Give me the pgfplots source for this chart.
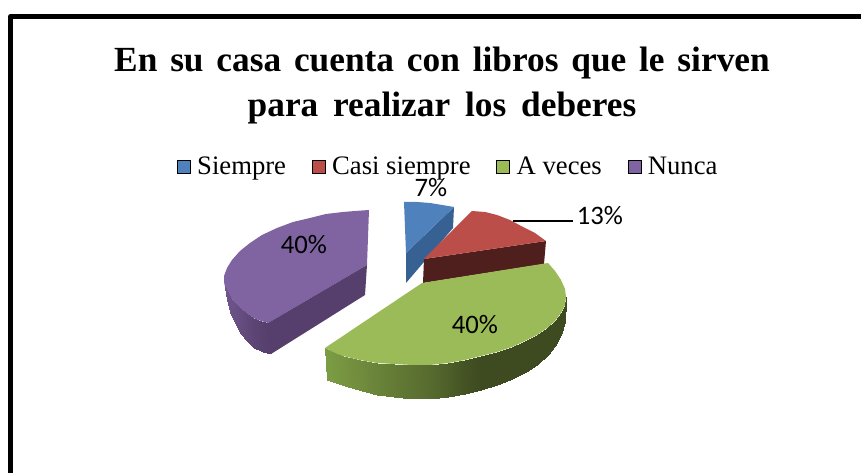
\documentclass[border=0pt]{standalone}
\usepackage{pgfplots}
\pgfplotsset{compat=1.18}
\usepackage{fontspec}
\setmainfont{Liberation Serif}
\newfontfamily\labelfont{Carlito}
\newcommand\titleface[1]{\bfseries\fontsize{26.5}{33.5}\selectfont\setlength\spaceskip{#1}}
\definecolor{cblue}{HTML}{4F81BD}
\definecolor{cbluewall}{HTML}{386193}
\definecolor{cred}{HTML}{BC4E4A}
\definecolor{credwall}{HTML}{4E1F1C}
\definecolor{cgreen}{HTML}{9BBB59}
\definecolor{cpurple}{HTML}{8064A2}
\definecolor{cpurplewall}{HTML}{563F6C}
\pgfplotsset{
  colormap={greenwall}{rgb255(0)=(124,156,68) rgb255(1000)=(62,74,32)},
  colormap={purplewall}{rgb255(0)=(112,87,143) rgb255(1000)=(86,63,108)},
}
\begin{document}
\begin{tikzpicture}
  \begin{axis}[
      scale only axis,
      width=645.75pt, height=354.75pt,
      xmin=0, xmax=861, ymin=0, ymax=473,
      y dir=reverse,
      axis lines=none,
      point meta min=0, point meta max=1,
      title={\titleface{0.363em}En su casa cuenta con libros que le sirven\\\titleface{0.42em}para realizar los deberes},
      title style={
        at={(axis cs:442,93.5)}, anchor=center, align=center,
        font=\bfseries\fontsize{26.5}{33.5}\selectfont,
      },
      legend columns=4,
      legend cell align=left,
      legend style={
        at={(axis cs:177,167)}, anchor=west, draw=none, fill=none,
        inner sep=0pt, outer sep=0pt,
        font=\fontsize{20}{24}\selectfont,
        /tikz/every even column/.style={column sep=14.4pt},
        nodes={inner xsep=5pt, inner ysep=0pt},
      },
      legend image code/.code={
        \fill[#1] (0pt,-4.9pt) rectangle (9.75pt,4.9pt);
      },
    ]
    % keeps the page as large as the whole axis
    \addplot[draw=none, forget plot] coordinates {(0,0) (861,473)};

    % frame of the picture, open on the right and at the bottom
    \addplot[black, line width=3.75pt, line join=round, forget plot]
      coordinates {(10.5,473) (10.5,16.5) (861,16.5)};

    % Nunca: 40%
    \addplot[fill=cpurple, draw=none, forget plot] coordinates {
      (369,210) (355,211) (343,212) (326,214) (310,218) (293,222) (277,228)
      (262,235) (250,243) (240,251) (232,260) (227,268) (224,276) (224,282)
      (225,287) (230,297) (235,303) (240,308) (247,314) (253,318) (261,321)
      (268,323) (367,265) (369,210)};
    \addplot[fill=cpurplewall, draw=none, forget plot] coordinates {
      (268,323) (367,265) (365,295) (271,354) (268,323)};
    \addplot[surf, shader=interp, colormap name=purplewall, mesh/cols=2,
        point meta=explicit, forget plot] table[x=x, y=y, meta=c, row sep=\\] {
      x y c\\
      225 287 0\\ 225 287 0\\
      228 293 0.1\\ 227 300 0.1\\
      232 300 0.2\\ 231 315 0.2\\
      240 308 0.4\\ 240 333 0.4\\
      247 314 0.6\\ 247 341 0.6\\
      253 318 0.75\\ 254 348 0.75\\
      261 321 0.9\\ 263 352 0.9\\
      268 323 1\\ 271 354 1\\
    };

    % Siempre: 7%
    \addplot[fill=cbluewall, draw=none, forget plot] coordinates {
      (454,207) (453,228) (406,283) (406,253) (454,207)};
    \addplot[fill=cblue, draw=none, forget plot] coordinates {
      (404,202) (417,202) (430,203) (442,205) (454,207) (406,253) (404,202)};

    % Casi siempre: 13%
    \addplot[fill=credwall, draw=none, forget plot] coordinates {
      (546,241) (544,264) (423,283) (424,259) (546,241)};
    \addplot[fill=cred, draw=none, forget plot] coordinates {
      (472,211) (485,212) (497,215) (510,220) (523,227) (535,233) (546,241)
      (424,259) (472,211)};

    % A veces: 40%
    \addplot[surf, shader=interp, colormap name=greenwall, mesh/cols=2,
        point meta=explicit, forget plot] table[x=x, y=y, meta=c, row sep=\\] {
      x y c\\
      325 348 0\\ 327 380 0\\
      343 356 0.1\\ 345 386 0.1\\
      360 360 0.2\\ 362 391 0.2\\
      377 363 0.3\\ 377 395 0.3\\
      394 364 0.4\\ 394 397 0.4\\
      412 365 0.5\\ 412 399 0.5\\
      430 365 0.6\\ 430 399 0.6\\
      448 363 0.75\\ 448 397 0.75\\
      465 360 0.9\\ 465 394 0.9\\
      481 356 1\\ 481 390 1\\
      497 352 1\\ 497 385 1\\
      512 347 1\\ 512 379 1\\
      525 341 1\\ 526 372 1\\
      537 335 1\\ 538 364 1\\
      547 328 1\\ 548 355 1\\
      555 321 1\\ 555 346 1\\
      561 313 1\\ 561 335 1\\
      565 305 1\\ 565 322 1\\
      566 297 1\\ 566 300 1\\
    };
    \addplot[fill=cgreen, draw=none, forget plot] coordinates {
      (422,283) (548,263) (555,271) (561,280) (565,289) (566,297) (565,305)
      (561,313) (555,321) (547,328) (537,335) (525,341) (512,347) (497,352)
      (481,356) (465,360) (448,363) (430,365) (412,365) (394,364) (377,363)
      (360,360) (343,356) (333,352) (325,348) (422,283)};

    % leader line of the 13% label
    \addplot[black, line width=1.5pt, forget plot] coordinates {(513,221) (573,221)};

    \addlegendimage{fill=cblue}
    \addlegendentry{Siempre}
    \addlegendimage{fill=cred}
    \addlegendentry{Casi siempre}
    \addlegendimage{fill=cgreen}
    \addlegendentry{A veces}
    \addlegendimage{fill=cpurple}
    \addlegendentry{Nunca}

    \node[font=\labelfont\fontsize{20}{24}\selectfont] at (axis cs:431,188) {7\%};
    \node[font=\labelfont\fontsize{20}{24}\selectfont] at (axis cs:600,216) {13\%};
    \node[font=\labelfont\fontsize{20}{24}\selectfont] at (axis cs:304,245) {40\%};
    \node[font=\labelfont\fontsize{20}{24}\selectfont] at (axis cs:475,325) {40\%};
  \end{axis}
\end{tikzpicture}
\end{document}
